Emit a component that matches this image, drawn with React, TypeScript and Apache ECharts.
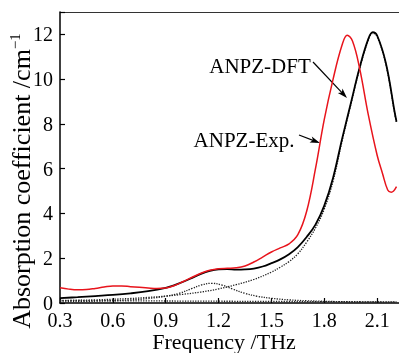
import React, { useEffect, useRef } from "react";
import * as echarts from "echarts";

const xTicks = ["0.3", "0.6", "0.9", "1.2", "1.5", "1.8", "2.1"];
const yTicks = ["0", "2", "4", "6", "8", "10", "12"];

const expFreq = [0.30, 0.35, 0.40, 0.45, 0.50, 0.55, 0.60, 0.65, 0.70, 0.75, 0.80, 0.85, 0.90, 0.95, 1.00, 1.05, 1.10, 1.15, 1.20, 1.25, 1.30, 1.35, 1.40, 1.45, 1.50, 1.55, 1.60, 1.65, 1.70, 1.75, 1.80, 1.85, 1.90, 1.93, 1.96, 2.00, 2.05, 2.10, 2.13, 2.16, 2.18, 2.21];
const expVals = [0.68, 0.62, 0.59, 0.60, 0.65, 0.71, 0.76, 0.76, 0.73, 0.70, 0.67, 0.65, 0.67, 0.78, 0.96, 1.15, 1.33, 1.46, 1.53, 1.55, 1.57, 1.65, 1.83, 2.05, 2.28, 2.46, 2.64, 3.05, 4.1, 6.0, 8.2, 10.0, 11.5, 11.96, 11.7, 10.5, 8.4, 6.6, 5.8, 5.05, 4.95, 5.2];

const dftFreq = [0.30, 0.40, 0.50, 0.60, 0.70, 0.80, 0.90, 0.95, 1.00, 1.05, 1.10, 1.15, 1.20, 1.25, 1.30, 1.35, 1.40, 1.45, 1.50, 1.55, 1.60, 1.65, 1.70, 1.75, 1.80, 1.85, 1.90, 1.95, 2.00, 2.05, 2.075, 2.10, 2.15, 2.20, 2.21];
const dftVals = [0.22, 0.26, 0.31, 0.36, 0.43, 0.53, 0.68, 0.80, 0.95, 1.12, 1.30, 1.43, 1.50, 1.51, 1.49, 1.50, 1.54, 1.63, 1.78, 1.95, 2.18, 2.5, 2.95, 3.5, 4.35, 5.6, 7.3, 8.9, 10.5, 11.8, 12.1, 11.95, 10.7, 8.5, 8.1];

const mainFreq = [0.30, 0.40, 0.50, 0.60, 0.70, 0.80, 0.90, 1.00, 1.10, 1.20, 1.30, 1.40, 1.50, 1.55, 1.60, 1.65, 1.70, 1.75, 1.80, 1.85, 1.90, 1.95, 2.00, 2.05, 2.075, 2.10, 2.15, 2.20, 2.21];
const mainVals = [0.10, 0.12, 0.14, 0.17, 0.20, 0.25, 0.31, 0.39, 0.49, 0.63, 0.82, 1.05, 1.38, 1.6, 1.85, 2.2, 2.72, 3.35, 4.2, 5.45, 7.2, 8.85, 10.45, 11.75, 12.05, 11.9, 10.65, 8.45, 8.05];

const midFreq = [0.30, 0.50, 0.70, 0.80, 0.90, 0.975, 1.05, 1.10, 1.16, 1.22, 1.28, 1.35, 1.42, 1.50, 1.60, 1.70, 1.90, 2.21];
const midVals = [0.05, 0.08, 0.14, 0.20, 0.30, 0.43, 0.65, 0.80, 0.88, 0.80, 0.62, 0.43, 0.30, 0.21, 0.14, 0.10, 0.06, 0.04];

const baseFreq = [0.30, 0.60, 0.90, 1.20, 1.50, 1.80, 2.21];
const baseVals = [0.12, 0.10, 0.09, 0.08, 0.07, 0.06, 0.05];

const pairs = (xs: number[], ys: number[]) => xs.map((x, i) => [x, ys[i]]);

const FONT = "'Liberation Serif', 'Times New Roman', serif";

function arrow(x1: number, y1: number, x2: number, y2: number) {
  const dx = x2 - x1;
  const dy = y2 - y1;
  const len = Math.sqrt(dx * dx + dy * dy);
  const ux = dx / len;
  const uy = dy / len;
  const hl = 10;
  const hw = 3.2;
  const bx = x2 - ux * hl;
  const by = y2 - uy * hl;
  return [
    { type: "line", shape: { x1, y1, x2: x2 - ux * 4, y2: y2 - uy * 4 }, style: { stroke: "#000", lineWidth: 1.2 } },
    {
      type: "polygon",
      shape: { points: [[x2, y2], [bx - uy * hw, by + ux * hw], [bx + ux * 2.5, by + uy * 2.5], [bx + uy * hw, by - ux * hw]] },
      style: { fill: "#000" },
    },
  ];
}

export default function App() {
  const ref = useRef<HTMLDivElement>(null);
  useEffect(() => {
    if (!ref.current) return;
    document.body.style.overflow = "hidden";
    document.documentElement.style.overflow = "hidden";
    const chart = echarts.init(ref.current, null, { renderer: "svg" });
    const dotted = { color: "#222", width: 1.3, type: "dotted" as const };
    chart.setOption({
      animation: false,
      grid: { left: 60, top: 12, bottom: 50, right: 0 },
      xAxis: [
        {
          type: "value",
          min: 0.3,
          max: 2.4,
          interval: 0.3,
          axisLine: { show: true, lineStyle: { color: "#000", width: 1.5 } },
          axisTick: { show: true, inside: true, length: 5, lineStyle: { color: "#000", width: 1.2 } },
          splitLine: { show: false },
          axisLabel: {
            color: "#000",
            fontFamily: FONT,
            fontSize: 20,
            lineHeight: 16,
            margin: 9,
            formatter: (v: number) => {
              const s = v.toFixed(1);
              return xTicks.includes(s) ? s : "";
            },
          },
        },
        {
          type: "value",
          position: "top",
          min: 0.3,
          max: 2.4,
          axisLine: { show: true, lineStyle: { color: "#333", width: 1.2 } },
          axisTick: { show: false },
          axisLabel: { show: false },
          splitLine: { show: false },
        },
      ],
      yAxis: {
        type: "value",
        min: 0,
        max: 13,
        interval: 2,
        axisLine: { show: true, lineStyle: { color: "#000", width: 1.5 } },
        axisTick: { show: true, inside: true, length: 5, lineStyle: { color: "#000", width: 1.2 } },
        splitLine: { show: false },
        axisLabel: {
          color: "#000",
          fontFamily: FONT,
          fontSize: 20,
          margin: 7,
          formatter: (v: number) => {
            const s = String(Math.round(v));
            return yTicks.includes(s) && Math.abs(v - Math.round(v)) < 1e-6 ? s : "";
          },
        },
      },
      series: [
        { type: "line", data: pairs(baseFreq, baseVals), smooth: 0.4, showSymbol: false, lineStyle: dotted },
        { type: "line", data: pairs(midFreq, midVals), smooth: 0.4, showSymbol: false, lineStyle: dotted },
        { type: "line", data: pairs(mainFreq, mainVals), smooth: 0.4, showSymbol: false, lineStyle: dotted },
        { type: "line", data: pairs(dftFreq, dftVals), smooth: 0.4, showSymbol: false, lineStyle: { color: "#000", width: 1.8 } },
        { type: "line", data: pairs(expFreq, expVals), smooth: 0.4, showSymbol: false, lineStyle: { color: "#e8141c", width: 1.5 } },
      ],
      graphic: [
        {
          type: "text",
          x: 21,
          y: 181,
          rotation: Math.PI / 2,
          style: {
            text: "{a|Absorption coefficient /cm}{b|−1}",
            align: "center",
            verticalAlign: "middle",
            rich: {
              a: { fontFamily: FONT, fontSize: 26, fill: "#000" },
              b: { fontFamily: FONT, fontSize: 15, fill: "#000", verticalAlign: "top", padding: [0, 0, 12, 0] },
            },
          },
        },
        {
          type: "text",
          x: 224,
          y: 341,
          style: { text: "Frequency /THz", fontFamily: FONT, fontSize: 22, lineHeight: 18, fill: "#000", align: "center", verticalAlign: "middle" },
        },
        {
          type: "text",
          x: 260,
          y: 66,
          style: { text: "ANPZ-DFT", fontFamily: FONT, fontSize: 21, fill: "#000", align: "center", verticalAlign: "middle" },
        },
        {
          type: "text",
          x: 244,
          y: 140,
          style: { text: "ANPZ-Exp.", fontFamily: FONT, fontSize: 21, fill: "#000", align: "center", verticalAlign: "middle" },
        },
        ...arrow(313, 62, 347, 98),
        ...arrow(299, 135, 320, 143),
      ],
    });
    return () => chart.dispose();
  }, []);
  return <div ref={ref} style={{ position: "fixed", left: 0, top: 0, width: 433, height: 353 }} />;
}
